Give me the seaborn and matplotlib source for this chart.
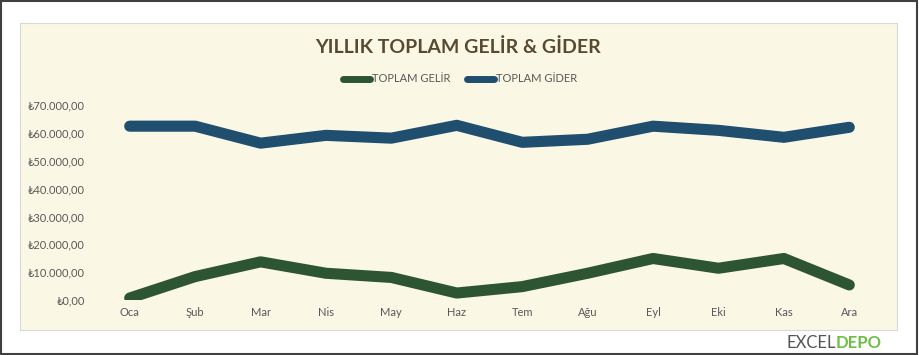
import numpy as np
import pandas as pd
import seaborn as sns
import matplotlib.pyplot as plt
from matplotlib.patches import Rectangle
from matplotlib.ticker import FuncFormatter

# data
months = ["Oca", "Şub", "Mar", "Nis", "May", "Haz", "Tem", "Ağu", "Eyl", "Eki", "Kas", "Ara"]
gelir = [700, 8400, 13700, 9600, 8100, 2500, 4800, 9600, 14900, 11400, 14900, 5400]
gider = [62400, 62400, 56300, 59100, 58100, 62700, 56600, 57700, 62400, 60900, 58400, 62000]
series = ["TOPLAM GELİR", "TOPLAM GİDER"]
colors = ["#2E5531", "#1F4E6E"]

df = pd.DataFrame({
    "ay": list(range(len(months))) * 2,
    "tutar": gelir + gider,
    "seri": [series[0]] * len(months) + [series[1]] * len(months),
})

sns.set_style("white")
plt.rcParams["font.family"] = ["Lato", "DejaVu Sans"]

bg = "#FBF7E5"
fig = plt.figure(figsize=(9.19, 3.55), dpi=100)
fig.patch.set_facecolor("white")

# chart area panel + outer frame
fig.patches.append(Rectangle((20 / 919, 25 / 355), 877 / 919, 307 / 355, transform=fig.transFigure,
                             facecolor=bg, edgecolor="#D9D9D9", linewidth=0.8, zorder=-1))
fig.patches.append(Rectangle((0.001, 0.002), 0.997, 0.995, transform=fig.transFigure,
                             facecolor="none", edgecolor="#404040", linewidth=1.5, zorder=5))

ax = fig.add_axes([97 / 919, 55 / 355, 785 / 919, 195 / 355])
ax.set_facecolor(bg)
ax.set_zorder(1)

sns.lineplot(data=df, x="ay", y="tutar", hue="seri", palette=colors, linewidth=8,
             legend=False, ax=ax, sort=False)
for ln in ax.get_lines():
    ln.set_solid_capstyle("round")
    ln.set_solid_joinstyle("round")

ax.set_xlim(-0.5, len(months) - 0.5)
ax.set_ylim(0, 70000)
ax.set_yticks(np.arange(0, 70001, 10000))
ax.yaxis.set_major_formatter(FuncFormatter(lambda v, p: "₺" + f"{v:,.2f}".replace(",", "X").replace(".", ",").replace("X", ".")))
ax.set_xticks(range(len(months)))
ax.set_xticklabels(months)
ax.tick_params(axis="both", length=0, labelsize=8, colors="#595959")
ax.tick_params(axis="y", pad=9)
ax.tick_params(axis="x", pad=5)
ax.set_xlabel("")
ax.set_ylabel("")
for s in ax.spines.values():
    s.set_visible(False)

fig.text(458 / 919, 1 - 47 / 355, "YILLIK TOPLAM GELİR & GİDER", ha="center", va="center",
         fontsize=14, fontweight="bold", color="#574A30")

handles = [plt.Line2D([], [], color=c, linewidth=5, solid_capstyle="round") for c in colors]
fig.legend(handles, series, loc="center", bbox_to_anchor=(460 / 919, 1 - 79 / 355), ncol=2,
           frameon=False, fontsize=8, labelcolor="#595959", handlelength=2.4, handletextpad=0.2,
           columnspacing=1.5)

fig.text(836 / 919, 1 - 343 / 355, "EXCEL", ha="right", va="center", fontsize=12, color="#555555")
fig.text(836 / 919, 1 - 343 / 355, "DEPO", ha="left", va="center", fontsize=12, fontweight="bold",
         color="#6DBE45")

fig.savefig("out.png", dpi=100, facecolor=fig.get_facecolor())
